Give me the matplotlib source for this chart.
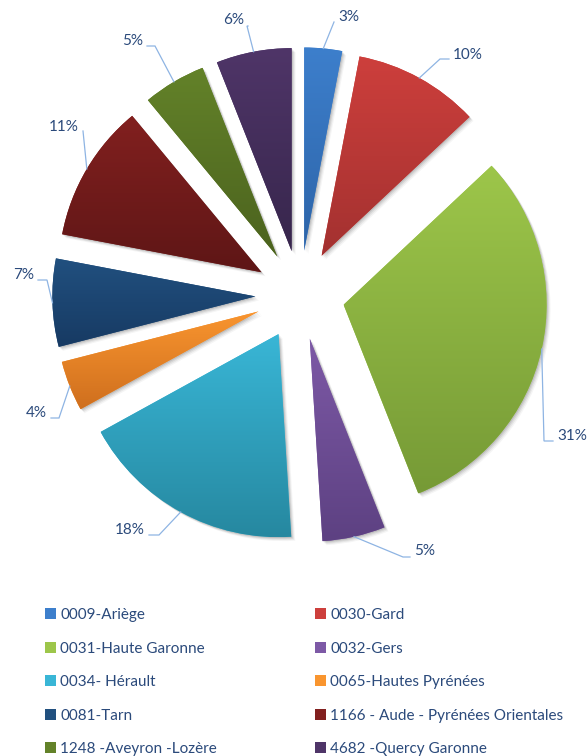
import numpy as np
import matplotlib
matplotlib.use("Agg")                                  # no display in the sandbox
import matplotlib.pyplot as plt
from matplotlib.colors import LinearSegmentedColormap
from matplotlib.patches import Wedge, Patch

# ---- data ------------------------------------------------------------------
names = ["0009-Ariège", "0030-Gard", "0031-Haute Garonne", "0032-Gers",
         "0034- Hérault", "0065-Hautes Pyrénées", "0081-Tarn",
         "1166 - Aude - Pyrénées Orientales", "1248 -Aveyron -Lozère",
         "4682 -Quercy Garonne"]
shares = [3, 10, 31, 5, 18, 4, 7, 11, 5, 6]

# Excel-style vertical gradient, light on top, darker at the bottom
tops = ["#3D7FCC", "#CD3F3C", "#9DC64A", "#7D59A6", "#39B6D6",
        "#F9952F", "#21507F", "#82201F", "#638229", "#4F3568"]
bottoms = ["#2D64A8", "#A33130", "#769A36", "#5D4182", "#2688A0",
           "#CF6F1E", "#173A63", "#5E1616", "#4B621E", "#37264C"]

# ---- layout (pixels from the top-left of the picture) ----------------------
W, H, DPI = 587, 756, 100
SCALE = 203                                             # px per unit of pie radius
CX, CY = 300, 295                                       # pie centre
label_px = [(338, 17), (453, 55), (557, 436), (414, 551), (145, 530),
            (47, 413), (34, 275), (79, 127), (143, 41), (244, 20)]
elbow_px = [(334, 22), (440, 59), (544, 441), (403, 557), (159, 535),
            (59, 418), (47, 280), (83, 131), (155, 46), (247, 26)]
label_ha = ["left"] * 4 + ["right"] * 6
TEXT = "#2B4A7B"
LEADER = "#8EB4E3"

plt.rcParams["font.family"] = ["Lato", "DejaVu Sans"]


def px(x, y):
    """picture pixels -> pie data units"""
    return (x - CX) / SCALE, (CY - y) / SCALE


fig = plt.figure(figsize=(W / DPI, H / DPI), dpi=DPI)
ax = fig.add_axes([0, 0, 1, 1])

wedges, _ = ax.pie(shares, explode=[0.22] * len(shares), startangle=90,
                   counterclock=False, radius=1, frame=True,
                   colors=tops, wedgeprops=dict(linewidth=0))

grad = np.linspace(0, 1, 256)[:, None]
for w, top, bot in zip(wedges, tops, bottoms):
    # soft drop shadow, bottom-right
    for k, a in ((1, 0.10), (2, 0.08), (3, 0.06), (4, 0.04)):
        sh = Wedge((w.center[0] + k / SCALE, w.center[1] - k / SCALE), w.r,
                   w.theta1, w.theta2, facecolor="black", alpha=a,
                   linewidth=0, zorder=w.get_zorder() - 0.5)
        ax.add_patch(sh)
    bb = w.get_path().get_extents()
    cmap = LinearSegmentedColormap.from_list("", [top, bot])
    im = ax.imshow(grad, cmap=cmap, extent=(bb.x0, bb.x1, bb.y0, bb.y1),
                   origin="upper", aspect="auto", interpolation="bilinear",
                   zorder=w.get_zorder() + 0.1)
    im.set_clip_path(w)

# percentage labels with leader lines
for w, v, lp, ep, ha in zip(wedges, shares, label_px, elbow_px, label_ha):
    mid = np.deg2rad((w.theta1 + w.theta2) / 2)
    ax0 = w.center[0] + w.r * np.cos(mid)
    ay0 = w.center[1] + w.r * np.sin(mid)
    ex, ey = px(*ep)
    gap = 4 if ha == "left" else -4
    tx, _ = px(lp[0] - gap, 0)
    ax.plot([ax0, ex, tx], [ay0, ey, ey], color=LEADER, lw=0.9,
            solid_joinstyle="miter", zorder=5)
    lx, ly = px(*lp)
    ax.text(lx, ly, f"{v}%", ha=ha, va="center", color=TEXT, fontsize=11)

ax.set_xlim(-CX / SCALE, (W - CX) / SCALE)
ax.set_ylim(-(H - CY) / SCALE, CY / SCALE)
ax.set_aspect("equal")
ax.axis("off")

# legend, filled row by row like Excel
order = [0, 2, 4, 6, 8, 1, 3, 5, 7, 9]
handles = [Patch(facecolor=tops[i], linewidth=0) for i in order]
fig.legend(handles, [names[i] for i in order], loc="upper left",
           bbox_to_anchor=(45 / W, 1 - 608 / H), ncol=2, frameon=False,
           fontsize=11, labelcolor=TEXT, borderpad=0, borderaxespad=0,
           handlelength=0.75, handleheight=0.75, handletextpad=0.25,
           labelspacing=1.28, columnspacing=6.4)

fig.savefig("out.png", dpi=DPI)
